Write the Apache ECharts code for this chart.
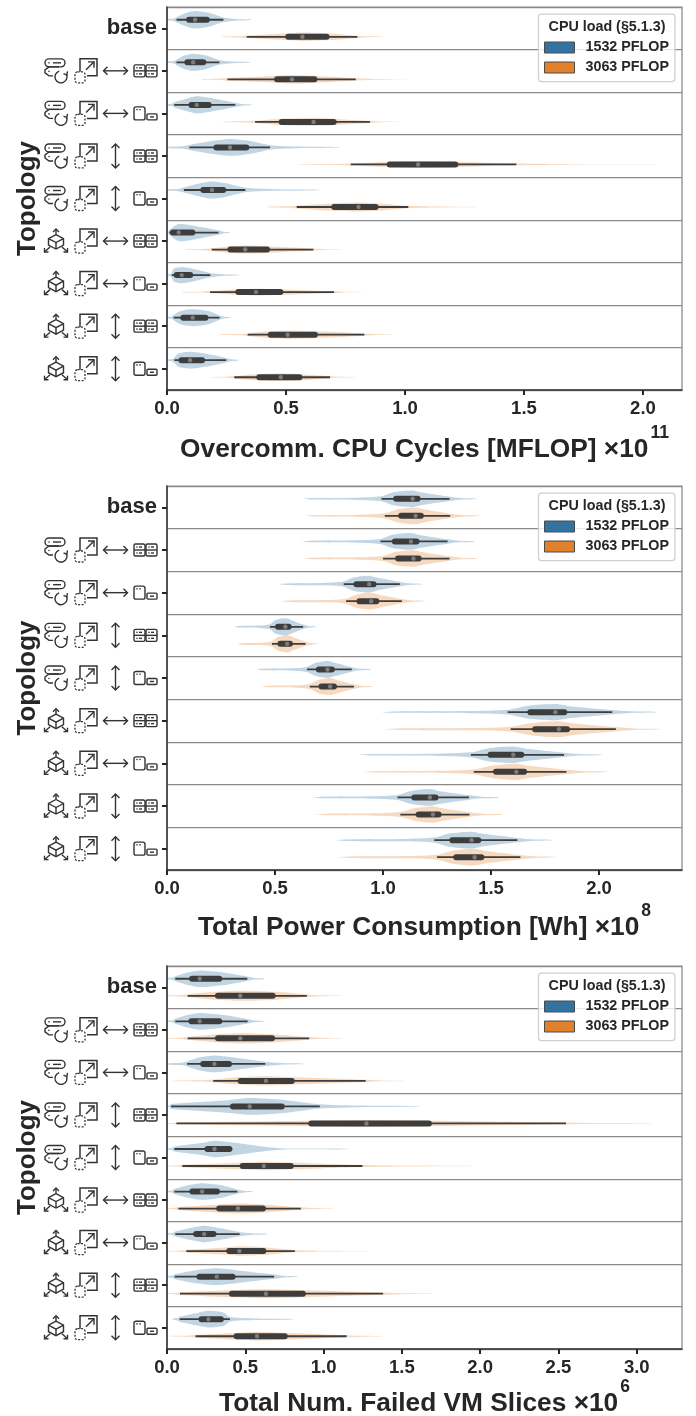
<!DOCTYPE html>
<html>
<head>
<meta charset="utf-8">
<title>Topology violins</title>
<style>
  html, body { margin: 0; padding: 0; background: #fff; }
  #chart { width: 696px; height: 1416px; }
</style>
<script src="https://cdn.jsdelivr.net/npm/echarts@6/dist/echarts.min.js"></script>
</head>
<body>
<div id="chart"></div>
<script>
const topologies = ['base', 'replace-h-large', 'replace-h-small', 'replace-v-large', 'replace-v-small',
  'fail-h-large', 'fail-h-small', 'fail-v-large', 'fail-v-small']
const loads = ['1532 PFLOP', '3063 PFLOP']
const legendTitle = 'CPU load (§5.1.3)'

// each row: low end, lower whisker, q1, median, q3, upper whisker, high end, relative peak width
const cyclesLow = [
  [0, .04, .08, .118, .18, .237, .356, 1.02],
  [0, .04, .073, .11, .165, .22, .356, 1.02],
  [0, .03, .09, .125, .188, .287, .358, 1],
  [0, .094, .195, .265, .346, .433, .728, 1],
  [0, .071, .14, .189, .249, .329, .644, 1],
  [0, .01, .012, .049, .119, .216, .265, 1],
  [0, .02, .028, .062, .11, .182, .308, .95],
  [0, .028, .056, .108, .174, .221, .269, 1],
  [0, .031, .048, .097, .16, .249, .3, 1]
]
const cyclesHigh = [
  [.224, .335, .497, .569, .683, .8, .909, .5],
  [.136, .254, .45, .525, .632, .793, 1.015, .5],
  [.234, .37, .469, .616, .713, .853, .987, .45],
  [.545, .772, .923, 1.055, 1.224, 1.468, 2.06, .38],
  [.416, .545, .69, .805, .889, 1.014, 1.312, .54],
  [.07, .188, .254, .329, .433, .615, .731, .47],
  [.056, .181, .287, .374, .489, .702, .829, .41],
  [.217, .339, .423, .507, .634, .829, .952, .5],
  [.178, .283, .375, .478, .569, .685, .794, .45]
]
const powerLow = [
  [.628, .993, 1.047, 1.137, 1.174, 1.308, 1.438, .98],
  [.624, .988, 1.041, 1.129, 1.169, 1.299, 1.427, .98],
  [.519, .818, .863, .936, .97, 1.078, 1.182, .98],
  [.315, .477, .5, .548, .577, .63, .69, 1],
  [.415, .648, .689, .743, .777, .855, .945, 1],
  [.993, 1.577, 1.668, 1.798, 1.853, 2.061, 2.267, .94],
  [.886, 1.407, 1.484, 1.603, 1.654, 1.838, 2.021, .96],
  [.675, 1.067, 1.131, 1.217, 1.257, 1.398, 1.539, .98],
  [.781, 1.237, 1.307, 1.41, 1.455, 1.622, 1.784, .98]
]
const powerHigh = [
  [.642, 1.008, 1.07, 1.151, 1.189, 1.311, 1.454, .98],
  [.634, 1, 1.056, 1.141, 1.179, 1.308, 1.44, .98],
  [.529, .829, .877, .945, .983, 1.087, 1.196, .98],
  [.33, .486, .511, .556, .583, .641, .699, 1],
  [.44, .661, .701, .755, .787, .865, .956, 1],
  [1.005, 1.591, 1.69, 1.814, 1.866, 2.078, 2.285, .94],
  [.9, 1.42, 1.509, 1.617, 1.667, 1.849, 2.044, .96],
  [.689, 1.08, 1.151, 1.231, 1.271, 1.4, 1.556, .98],
  [.792, 1.25, 1.325, 1.424, 1.469, 1.636, 1.801, .98]
]
const failedLow = [
  [0, .053, .141, .209, .353, .513, .624, .98],
  [0, .053, .137, .209, .353, .515, .628, .98],
  [0, .128, .212, .303, .415, .628, .876, .98],
  [0, .026, .402, .528, .752, .976, 1.618, .98],
  [0, .047, .239, .303, .417, .417, 1.162, .98],
  [0, .047, .143, .224, .338, .449, .553, .98],
  [0, .053, .167, .237, .316, .464, .65, .98],
  [0, .049, .188, .318, .438, .684, .838, .98],
  [.036, .081, .201, .265, .363, .402, .812, .98]
]
const failedHigh = [
  [0, .132, .306, .468, .694, .893, 1.109, .59],
  [0, .132, .306, .468, .69, .908, 1.122, .59],
  [.036, .295, .451, .632, .816, 1.269, 1.526, .55],
  [0, .06, .902, 1.274, 1.692, 2.548, 3.116, .41],
  [0, .098, .464, .618, .81, 1.248, 1.97, .5],
  [0, .073, .314, .453, .632, .855, 1.068, .59],
  [0, .124, .378, .462, .635, .816, 1.297, .56],
  [0, .083, .395, .632, .887, 1.38, 1.697, .53],
  [.015, .182, .425, .575, .771, 1.147, 1.382, .5]
]

const cyclesTicks = [0, 0.5, 1, 1.5, 2]
const powerTicks = [0, 0.5, 1, 1.5, 2]
const failedTicks = [0, 0.5, 1, 1.5, 2, 2.5, 3]

const ink = '#262626'
const iconInk = '#333333'
const font = 'Liberation Sans'
const loadColors = ['#3274a1', '#e1812c']

const panels = [
  { low: cyclesLow, high: cyclesHigh, ticks: cyclesTicks, max: 2.164, top: 7, bottom: 390, gap: 34, title: 'Overcomm. CPU Cycles [MFLOP] ×10', power: '11' },
  { low: powerLow, high: powerHigh, ticks: powerTicks, max: 2.384, top: 486, bottom: 870, gap: 32, title: 'Total Power Consumption [Wh] ×10', power: '8' },
  { low: failedLow, high: failedHigh, ticks: failedTicks, max: 3.289, top: 966, bottom: 1349, gap: 29, title: 'Total Num. Failed VM Slices ×10', power: '6' }
]

// small helpers for the topology glyphs, coordinates are relative to the glyph centre
function stroke(extra) {
  return Object.assign({ fill: 'none', stroke: iconInk, lineWidth: 1.4 }, extra)
}
function seg(points) {
  return { type: 'polyline', shape: { points: points }, style: stroke() }
}
function box(x, y, w, h, r, extra) {
  return { type: 'rect', shape: { x: x, y: y, width: w, height: h, r: r }, style: stroke(extra) }
}
function dots(list) {
  return list.map(p => ({ type: 'circle', shape: { cx: p[0], cy: p[1], r: 0.8 }, style: { fill: iconInk } }))
}

function replaceGlyph() {
  return [
    box(-11, -12, 20, 8, 4),
    seg([[-7, -4], [-11, -1], [-11, 2], [-7, 5], [-3, 5]]),
    seg([[-7, -4], [3, -4]]),
    seg([[-3, -8], [5, -8]]),
    { type: 'arc', shape: { cx: 5, cy: 6, r: 6, startAngle: -0.4, endAngle: 4.4 }, style: stroke() },
    seg([[11.5, 0.5], [10.8, 4.2], [7.5, 2.8]])
  ].concat(dots([[-7, -8], [-7, 0.5]]))
}
function cubeGlyph() {
  return [
    seg([[0, -6.5], [7.5, -2.5], [7.5, 4], [0, 8], [-7.5, 4], [-7.5, -2.5], [0, -6.5]]),
    seg([[-7.5, -2.5], [0, 1.5], [7.5, -2.5]]),
    seg([[0, 1.5], [0, 8]]),
    seg([[0, -6.5], [0, -12]]),
    seg([[-3, -9], [0, -12], [3, -9]]),
    seg([[-6, 6], [-11.5, 11]]),
    seg([[-11.5, 7], [-11.5, 11], [-7.5, 11]]),
    seg([[6, 6], [11.5, 11]]),
    seg([[11.5, 7], [11.5, 11], [7.5, 11]])
  ]
}
function scaleGlyph() {
  return [
    { type: 'polyline', shape: { points: [[-6, 1], [-6, -12], [11, -12], [11, 5], [1, 5]] }, style: stroke({ lineWidth: 1.5 }) },
    box(-11, 1, 10, 11, 2.5, { lineDash: [2, 1.5], lineWidth: 1.3 }),
    seg([[0, -1], [8, -9]]),
    seg([[2, -9], [8, -9], [8, -3]])
  ]
}
function horizontalGlyph() {
  return [seg([[-12, 0], [12, 0]]), seg([[-8, -4], [-12, 0], [-8, 4]]), seg([[8, -4], [12, 0], [8, 4]])]
}
function verticalGlyph() {
  return [seg([[0, -12], [0, 12]]), seg([[-4, -8], [0, -12], [4, -8]]), seg([[-4, 8], [0, 12], [4, 8]])]
}
function largeGlyph() {
  const parts = []
  for (const x of [-11.5, 0.5]) {
    parts.push(box(x, -6, 11, 12, 1.5))
    parts.push(seg([[x, 0], [x + 11, 0]]))
    parts.push(seg([[x + 5, -3], [x + 8, -3]]))
    parts.push(seg([[x + 5, 3], [x + 8, 3]]))
    parts.push.apply(parts, dots([[x + 3, -3], [x + 3, 3]]))
  }
  return parts
}
function smallGlyph() {
  return [
    box(-11.5, -6.5, 11, 13, 2),
    box(1.5, 0.5, 10, 6, 1),
    seg([[4.5, 3.5], [8.5, 3.5]])
  ].concat(dots([[-8.5, -3.8], [-5.5, -3.8]]))
}

// rows 1..8 of the y axis are made of these glyphs
const rowGlyphs = [
  [replaceGlyph, horizontalGlyph, largeGlyph], [replaceGlyph, horizontalGlyph, smallGlyph],
  [replaceGlyph, verticalGlyph, largeGlyph], [replaceGlyph, verticalGlyph, smallGlyph],
  [cubeGlyph, horizontalGlyph, largeGlyph], [cubeGlyph, horizontalGlyph, smallGlyph],
  [cubeGlyph, verticalGlyph, largeGlyph], [cubeGlyph, verticalGlyph, smallGlyph]
]

function renderGlyphs(params, api) {
  const row = api.value(0)
  const at = api.coord([0, row])
  const glyphs = rowGlyphs[row - 1]
  const place = (make, dx) => ({ type: 'group', x: at[0] + dx, y: at[1], children: make() })
  return {
    type: 'group',
    children: [
      place(glyphs[0], -111),
      place(scaleGlyph, -81),
      place(glyphs[1], -51.5),
      place(glyphs[2], -21.5)
    ]
  }
}

function makeViolinRenderer(hue) {
  const side = hue === 0 ? -0.2 : 0.2
  return function(params, api) {
    const row = api.value(0)
    const band = api.size([0, 1])[1]
    const y = api.coord([0, row])[1] + side * band
    const px = v => api.coord([v, row])[0]
    const lo = api.value(1)
    const wlo = api.value(2)
    const q1 = api.value(3)
    const med = api.value(4)
    const q3 = api.value(5)
    const whi = api.value(6)
    const hi = api.value(7)
    const half = api.value(8) * 0.2 * band

    const stops = [
      [lo, 0], [lo + (wlo - lo) * 0.12, 0.09], [lo + (wlo - lo) * 0.7, 0.14], [wlo, 0.3], [q1, 0.78], [med, 1], [q3, 0.78],
      [whi, 0.26], [whi + (hi - whi) * 0.4, 0.1], [hi - (hi - whi) * 0.1, 0.05], [hi, 0]
    ]
    const upper = []
    let last = -Infinity
    for (const s of stops) {
      const x = px(s[0])
      if (x - last < 0.5) continue
      upper.push([x, y - s[1] * half])
      last = x
    }
    const lower = upper.slice(1, -1).reverse().map(p => [p[0], 2 * y - p[1]])

    return {
      type: 'group',
      children: [
        {
          type: 'polygon',
          shape: { points: upper.concat(lower), smooth: 0.25 },
          style: { fill: loadColors[hue], opacity: 0.3 }
        },
        {
          type: 'line',
          shape: { x1: px(wlo), y1: y, x2: px(whi), y2: y },
          style: { stroke: '#3d3d3d', lineWidth: 1.8, lineCap: 'butt' }
        },
        {
          type: 'line',
          shape: { x1: px(q1) + 3, y1: y, x2: px(q3) - 3, y2: y },
          style: { stroke: '#3d3d3d', lineWidth: 6, lineCap: 'round' }
        },
        {
          type: 'circle',
          shape: { cx: px(med), cy: y, r: 2.2 },
          style: { fill: '#7d7d7d' }
        }
      ]
    }
  }
}

const grids = []
const xAxes = []
const yAxes = []
const legends = []
const titles = []
const seriesList = []

panels.forEach((p, i) => {
  grids.push({
    left: 167, width: 515, top: p.top, height: p.bottom - p.top, outerBoundsMode: 'none',
    show: true, borderColor: '#8a8a8a', borderWidth: 1.25, backgroundColor: 'transparent'
  })
  xAxes.push({
    gridIndex: i, type: 'value', min: 0, max: p.max,
    nameLocation: 'middle',
    name: '{t|' + p.title + '}{s|' + p.power + '}',
    nameGap: p.gap, nameMoveOverlap: false,
    nameTextStyle: {
      rich: {
        t: { fontFamily: font, fontWeight: 'bold', fontSize: 26.3, color: ink, lineHeight: 39, verticalAlign: 'bottom' },
        s: { fontFamily: font, fontWeight: 'bold', fontSize: 17.5, color: ink, verticalAlign: 'top', lineHeight: 22, padding: [0, 0, 0, 2] }
      }
    },
    axisLine: { show: true, lineStyle: { color: '#333', width: 1.5 } },
    axisTick: { show: true, length: 5, customValues: p.ticks, lineStyle: { color: ink, width: 2 } },
    axisLabel: {
      customValues: p.ticks, margin: 9, color: ink, fontFamily: font, fontWeight: 'bold', fontSize: 18.5,
      formatter: v => v.toFixed(1)
    },
    splitLine: { show: false }
  })
  yAxes.push({
    gridIndex: i, type: 'category', inverse: true, data: topologies,
    name: 'Topology', nameLocation: 'middle', nameGap: 126, nameRotate: 90, nameMoveOverlap: false,
    nameTextStyle: { fontFamily: font, fontWeight: 'bold', fontSize: 26, color: ink },
    axisLine: { show: true, lineStyle: { color: '#333', width: 1.5 } },
    axisTick: { show: true, alignWithLabel: true, length: 5, interval: 0, lineStyle: { color: ink, width: 2 } },
    axisLabel: {
      interval: 0, margin: 10, color: ink, fontFamily: font, fontWeight: 'bold', fontSize: 22,
      formatter: v => (v === 'base' ? v : '')
    },
    splitLine: { show: true, interval: 0, lineStyle: { color: '#8a8a8a', width: 1.25 } }
  })
  legends.push({
    left: 538.5, top: p.top + 7, orient: 'vertical', data: loads, selectedMode: false, icon: 'rect',
    itemWidth: 30, itemHeight: 11, itemGap: 6, padding: [26.5, 6, 7, 5.5],
    backgroundColor: 'rgba(255,255,255,0.8)', borderColor: '#cfcfcf', borderWidth: 1.25, borderRadius: 3,
    itemStyle: { borderColor: '#4a4a4a', borderWidth: 1 },
    textStyle: { fontFamily: font, fontWeight: 'bold', fontSize: 14.3, color: ink, padding: [0, 0, 0, 6] }
  })
  titles.push({
    text: legendTitle, left: 607, top: p.top + 13, textAlign: 'center', padding: 0, z: 8,
    textStyle: { fontFamily: font, fontWeight: 'bold', fontSize: 14.3, color: ink }
  })
  ;[p.low, p.high].forEach((table, hue) => {
    seriesList.push({
      type: 'custom', name: loads[hue], xAxisIndex: i, yAxisIndex: i,
      coordinateSystem: 'cartesian2d', clip: false, silent: true,
      itemStyle: { color: loadColors[hue] },
      encode: { y: 0, x: [1, 2, 3, 4, 5, 6, 7] },
      renderItem: makeViolinRenderer(hue),
      data: table.map((stats, row) => [row].concat(stats))
    })
  })
  seriesList.push({
    type: 'custom', name: 'glyphs', xAxisIndex: i, yAxisIndex: i,
    coordinateSystem: 'cartesian2d', clip: false, silent: true,
    encode: { y: 0 },
    renderItem: renderGlyphs,
    data: rowGlyphs.map((g, k) => [k + 1])
  })
})

const chart = echarts.init(document.getElementById('chart'))
chart.setOption({
  animation: false,
  backgroundColor: '#fff',
  title: titles,
  legend: legends,
  grid: grids,
  xAxis: xAxes,
  yAxis: yAxes,
  series: seriesList
})
</script>
</body>
</html>
